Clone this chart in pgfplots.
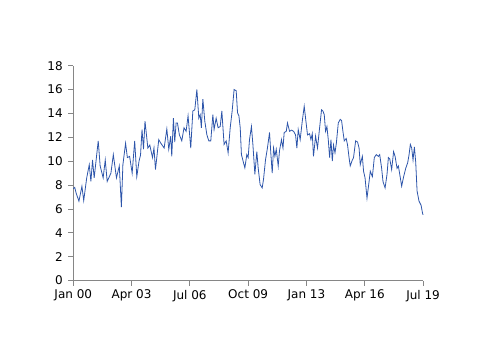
\documentclass[border=0pt]{standalone}
\usepackage{fontspec}
\setmainfont{DejaVu Sans}
\usepackage{pgfplots}
\pgfplotsset{compat=1.18}
\definecolor{axgray}{RGB}{134,134,134}
\definecolor{lineblue}{RGB}{45,85,170}
\begin{document}
\begin{tikzpicture}
\path (-73.3pt,-73.3pt) rectangle (427pt,280.7pt);
\begin{axis}[
  at={(0,0)}, anchor=south west,
  scale only axis, width=350pt, height=215pt,
  xmin=0, xmax=234, ymin=0, ymax=18,
  axis lines=left,
  axis line style={axgray, line width=1pt, -},
  xtick={0,39,78,117,156,195,234},
  xticklabels={Jan 00,Apr 03,Jul 06,Oct 09,Jan 13,Apr 16,Jul 19},
  ytick={0,2,...,18},
  tick style={axgray, line width=0.8pt},
  tick align=outside,
  major tick length=5pt,
  every tick label/.append style={font=\fontsize{12}{14}\selectfont, text=black},
  /pgf/number format/assume math mode=true,
  yticklabel style={xshift=-2pt},
  xticklabel style={yshift=-1pt},
  clip=false,
]
\addplot[lineblue, line width=0.8pt, mark=none] coordinates {
(0,7.7) (1,7.8) (2,7.3) (3.8,6.65) (5.8,7.9) (7,6.7) (9,8.6) (10.7,9.7) (11.8,8.3)
(12.9,10.1) (14,8.6) (16.7,11.7) (18,9.6) (20,8.6) (21.4,10.1) (22.7,8.3) (25.2,9.0)
(26.8,10.55) (28.9,8.6) (30.8,9.6) (32.2,6.15)
(33.2,9.7) (35,11.5) (36.2,10.3) (37.7,10.4) (39.4,9.0) (41.1,11.7) (42.5,8.7) (44,10.0)
(45,10.5) (46,12.65) (47,11.0) (48,13.35) (49.9,11.1) (51.2,11.35) (53,10.3) (54,11.1)
(55,9.3) (57.2,11.8) (58.6,11.5) (60.8,11.1) (62.6,12.7) (63.9,11.0) (65.2,12.1) (65.9,10.4)
(67,13.6) (67.9,11.6) (68.8,13.2) (69.7,13.2) (71,12.2) (72.6,11.7) (74.1,12.8) (75.5,12.5)
(76.8,13.8) (78.6,11.1) (80,14.2) (81.3,14.3) (82.7,16.0) (84,13.6) (84.9,13.9) (85.7,12.8)
(86.7,15.2) (88,13.35) (89.4,12.2) (90.7,11.7) (92,11.7) (93.4,13.9) (94.2,12.65) (95.6,13.6)
(96.9,12.8) (98.3,12.9) (99.4,14.2)
(100.9,11.4) (102.3,11.7) (103.6,10.7) (105,12.8) (106.3,14.2) (107.6,16.0) (109,15.9)
(109.9,14.05) (110.8,13.8) (111.7,12.8) (112.5,10.55) (113.9,9.86) (114.8,9.44) (116.1,10.55)
(117,10.3) (117.9,11.8) (119.2,12.9) (120.2,11.35) (121.5,8.9) (122.8,10.8) (123.7,9.44)
(125,8.04) (126.4,7.76) (127.3,8.5) (128.6,10.1) (129.9,11.1) (131.3,12.4) (132.2,10.6)
(133.1,9.0) (134,11.1) (134.9,10.4) (135.8,11.0) (137.1,9.6) (138,10.9) (139.3,11.8)
(140.3,11.1) (141.1,12.4) (142.5,12.5) (143.3,13.2) (144.7,12.5) (146,12.6) (147.4,12.5)
(148.7,12.2) (149.6,11.1) (150.5,12.65) (151.8,11.8) (153.2,13.35) (154.5,14.6) (155.9,13.07)
(156.7,12.2) (158.1,12.3) (159,11.8) (159.9,12.3) (160.7,10.4) (162.1,12.1) (163.4,11.1)
(164.8,12.8) (166.1,14.3) (167,14.2) (167.9,13.9) (168.8,12.5) (169.7,12.9) (170.6,11.8)
(171.5,10.3) (172.4,11.8) (173.3,10.0) (174.1,11.35) (175.1,10.7) (176,11.5) (177.3,13.2)
(178.6,13.5) (179.5,13.4) (180.4,12.5) (181.3,11.7) (182.6,11.9) (183.5,11.35) (184.5,10.3)
(185.3,9.6) (186.7,10.1) (187.5,10.3) (188.9,11.7) (190.2,11.6) (191.2,11.1) (192,9.7)
(193.4,10.4) (194.2,9.16) (195.2,8.6) (196.5,6.9) (197.9,8.3) (198.7,9.16) (200.1,8.7)
(201.4,10.3) (202.7,10.55) (204.1,10.4) (205,10.55) (206.3,9.4) (207.2,8.3) (208.6,7.76)
(209.9,8.9) (210.8,10.3) (211.7,10.2) (213,9.3) (214.3,10.8) (215.3,10.4) (216.6,9.4)
(217.5,9.6) (218.8,8.6) (219.7,7.9) (221,8.7) (222.4,9.4) (223.7,9.86) (224.6,10.5)
(225.5,11.4) (226.4,11.1) (227.3,10.1) (228.2,11.2) (229.1,9.9) (230,7.5) (231.3,6.65)
(232.7,6.3) (233.6,5.67) (234,5.5)
};
\end{axis}
\end{tikzpicture}
\end{document}
